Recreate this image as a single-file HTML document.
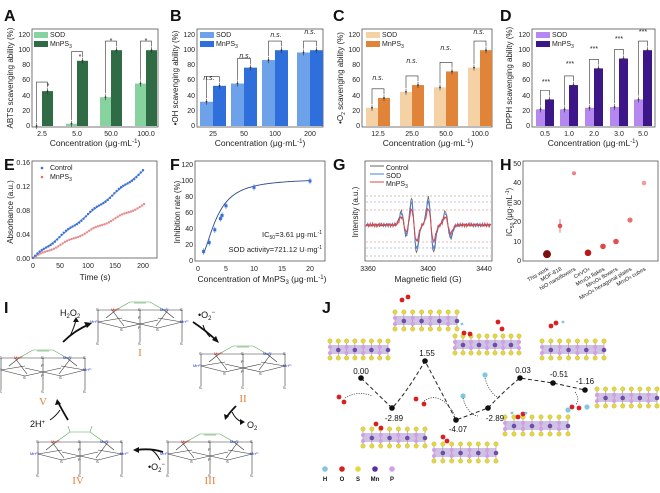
<!DOCTYPE html>
<html><head><meta charset="utf-8"><style>
body{margin:0;background:#fff}
svg{display:block;font-family:"Liberation Sans",sans-serif}
.t{font-size:7px;fill:#222}
.al{font-size:8.5px;fill:#222}
.L{font-size:16px;font-weight:bold;fill:#111}
.s{font-size:4px;fill:#222}
.rn{font-size:11px;fill:#e8803a;font-family:"Liberation Serif",serif}
.e{font-size:8px;fill:#111}
</style></head><body>
<svg id="S" width="660" height="493" viewBox="0 0 660 493">
<g id="G"></g>
<text class="L" x="4" y="21">A</text><text class="L" x="170" y="21">B</text>
<text class="L" x="333" y="21">C</text><text class="L" x="500" y="21">D</text>
<text class="L" x="4" y="170">E</text><text class="L" x="170" y="170">F</text>
<text class="L" x="333" y="170">G</text><text class="L" x="500" y="170">H</text>
<text class="L" x="4" y="313">I</text><text class="L" x="322" y="313">J</text>
<g class="t" text-anchor="end">
<text x="30" y="128">0</text><text x="30" y="113">20</text><text x="30" y="98">40</text><text x="30" y="82">60</text><text x="30" y="67">80</text><text x="30" y="52">100</text><text x="30" y="37">120</text>
<text x="195" y="128">0</text><text x="195" y="113">20</text><text x="195" y="98">40</text><text x="195" y="82">60</text><text x="195" y="67">80</text><text x="195" y="52">100</text><text x="195" y="37">120</text>
<text x="360" y="128">0</text><text x="360" y="113">20</text><text x="360" y="98">40</text><text x="360" y="82">60</text><text x="360" y="67">80</text><text x="360" y="52">100</text><text x="360" y="37">120</text>
<text x="530" y="128">0</text><text x="530" y="113">20</text><text x="530" y="98">40</text><text x="530" y="82">60</text><text x="530" y="67">80</text><text x="530" y="52">100</text><text x="530" y="37">120</text>
</g>
<g class="t" text-anchor="middle">
<text x="42" y="136">2.5</text><text x="77" y="136">5.0</text><text x="111" y="136">50.0</text><text x="146" y="136">100.0</text>
<text x="213" y="136">25</text><text x="244" y="136">50</text><text x="275" y="136">100</text><text x="310" y="136">200</text>
<text x="378" y="136">12.5</text><text x="412" y="136">25.0</text><text x="446" y="136">50.0</text><text x="480" y="136">100.0</text>
<text x="545" y="136">0.5</text><text x="569" y="136">1.0</text><text x="594" y="136">2.0</text><text x="619" y="136">3.0</text><text x="643" y="136">5.0</text>
</g>
<g class="al" text-anchor="middle">
<text x="95" y="146">Concentration (μg·mL<tspan dy="-3" font-size="6">-1</tspan><tspan dy="3">)</tspan></text>
<text x="260" y="146">Concentration (μg·mL<tspan dy="-3" font-size="6">-1</tspan><tspan dy="3">)</tspan></text>
<text x="428" y="146">Concentration (μg·mL<tspan dy="-3" font-size="6">-1</tspan><tspan dy="3">)</tspan></text>
<text x="593" y="146">Concentration (μg·mL<tspan dy="-3" font-size="6">-1</tspan><tspan dy="3">)</tspan></text>
<text transform="translate(13,78) rotate(-90)" font-size="8">ABTS scavenging ability (%)</text>
<text transform="translate(178,78) rotate(-90)" font-size="8">•OH scavenging ability (%)</text>
<text transform="translate(343,78) rotate(-90)" font-size="8">•O<tspan dy="2" font-size="5">2</tspan><tspan dy="-2"> scavenging ability (%)</tspan></text>
<text transform="translate(512,78) rotate(-90)" font-size="8">DPPH scavenging ability (%)</text>
</g>
<g class="t">
<text x="50" y="37">SOD</text><text x="50" y="46">MnPS<tspan dy="2" font-size="5">3</tspan></text>
<text x="216" y="37">SOD</text><text x="216" y="46">MnPS<tspan dy="2" font-size="5">3</tspan></text>
<text x="382" y="37">SOD</text><text x="382" y="46">MnPS<tspan dy="2" font-size="5">3</tspan></text>
<text x="552" y="37">SOD</text><text x="552" y="46">MnPS<tspan dy="2" font-size="5">3</tspan></text>
</g>
<g font-size="7" text-anchor="middle" fill="#222">
<text x="48" y="88">*</text><text x="80" y="59">*</text><text x="111" y="43">*</text><text x="146" y="43">*</text>
<text x="209" y="80" font-style="italic">n.s.</text><text x="245" y="58" font-style="italic">n.s.</text><text x="276" y="37" font-style="italic">n.s.</text><text x="310" y="34" font-style="italic">n.s.</text>
<text x="378" y="80" font-style="italic">n.s.</text><text x="412" y="63" font-style="italic">n.s.</text><text x="446" y="50" font-style="italic">n.s.</text><text x="479" y="34" font-style="italic">n.s.</text>
<text x="546" y="84">***</text><text x="570" y="66">***</text><text x="594" y="51">***</text><text x="619" y="41">***</text><text x="643" y="34">***</text>
</g>
<g class="t" text-anchor="end">
<text x="30" y="165">0.16</text><text x="30" y="189">0.12</text><text x="30" y="213">0.08</text><text x="30" y="237">0.04</text><text x="30" y="261">0.00</text>
<text x="193" y="263">0</text><text x="193" y="247">20</text><text x="193" y="231">40</text><text x="193" y="215">60</text><text x="193" y="199">80</text><text x="193" y="183">100</text><text x="193" y="167">120</text>
<text x="521" y="263">0</text><text x="521" y="244">10</text><text x="521" y="224">20</text><text x="521" y="205">30</text><text x="521" y="185">40</text><text x="521" y="166">50</text>
</g>
<g class="t" text-anchor="middle">
<text x="33" y="268">0</text><text x="60" y="268">50</text><text x="88" y="268">100</text><text x="115" y="268">150</text><text x="143" y="268">200</text>
<text x="198" y="271">0</text><text x="226" y="271">5</text><text x="254" y="271">10</text><text x="282" y="271">15</text><text x="310" y="271">20</text>
<text x="368" y="271">3360</text><text x="428" y="271">3400</text><text x="484" y="271">3440</text>
</g>
<g class="al" text-anchor="middle">
<text x="95" y="280">Time (s)</text>
<text x="262" y="282">Concentration of MnPS<tspan dy="2" font-size="6">3</tspan><tspan dy="-2"> (μg·mL</tspan><tspan dy="-3" font-size="6">-1</tspan><tspan dy="3">)</tspan></text>
<text x="428" y="282">Magnetic field (G)</text>
<text transform="translate(13,212) rotate(-90)" font-size="8">Absorbance (a.u.)</text>
<text transform="translate(180,212) rotate(-90)" font-size="8">Inhibition rate (%)</text>
<text transform="translate(358,212) rotate(-90)" font-size="8">Intensity (a.u.)</text>
<text transform="translate(512,212) rotate(-90)" font-size="8">IC<tspan dy="2" font-size="5">50</tspan><tspan dy="-2"> (μg·mL</tspan><tspan dy="-3" font-size="5">-1</tspan><tspan dy="3">)</tspan></text>
</g>
<g class="t">
<text x="50" y="170">Control</text><text x="50" y="179">MnPS<tspan dy="2" font-size="5">3</tspan></text>
<text x="386" y="170">Control</text><text x="386" y="178">SOD</text><text x="386" y="186">MnPS<tspan dy="2" font-size="5">3</tspan></text>
</g>
<g font-size="7.5" fill="#222" text-anchor="end">
<text x="322" y="237">IC<tspan dy="2" font-size="5">50</tspan><tspan dy="-2">=3.61 μg·mL</tspan><tspan dy="-3" font-size="5">-1</tspan></text>
<text x="322" y="252">SOD activity=721.12 U·mg<tspan dy="-3" font-size="5">-1</tspan></text>
</g>
<g font-size="5.5" fill="#222" text-anchor="end">
<text transform="translate(549,270) rotate(-30)">This work</text>
<text transform="translate(562,270) rotate(-30)">MOF-818</text>
<text transform="translate(576,270) rotate(-30)">NiO nanoflowers</text>
<text transform="translate(590,270) rotate(-30)">CeVO<tspan font-size="4">4</tspan></text>
<text transform="translate(605,270) rotate(-30)">Mn<tspan font-size="4">3</tspan>O<tspan font-size="4">4</tspan> flakes</text>
<text transform="translate(618,270) rotate(-30)">Mn<tspan font-size="4">3</tspan>O<tspan font-size="4">4</tspan> flowers</text>
<text transform="translate(632,270) rotate(-30)">Mn<tspan font-size="4">3</tspan>O<tspan font-size="4">4</tspan> hexagonal plates</text>
<text transform="translate(646,270) rotate(-30)">Mn<tspan font-size="4">3</tspan>O<tspan font-size="4">4</tspan> cubes</text>
</g>
<g id="mols"></g>
<g font-size="9" fill="#111">
<text x="60" y="316">H<tspan dy="2" font-size="6">2</tspan><tspan dy="-2">O</tspan><tspan dy="2" font-size="6">2</tspan></text>
<text x="198" y="318">•O<tspan dy="2" font-size="6">2</tspan><tspan dy="-6" font-size="6">−</tspan></text>
<text x="247" y="428">O<tspan dy="2" font-size="6">2</tspan></text>
<text x="148" y="470">•O<tspan dy="2" font-size="6">2</tspan><tspan dy="-6" font-size="6">−</tspan></text>
<text x="30" y="427">2H<tspan dy="-3" font-size="6">+</tspan></text>
</g>
<g class="rn" text-anchor="middle">
<text x="140" y="356">I</text><text x="243" y="402">II</text><text x="210" y="484">III</text><text x="78" y="484">IV</text><text x="43" y="405">V</text>
</g>
<g id="J"></g>
<g class="e" text-anchor="middle">
<text x="361" y="374">0.00</text><text x="394" y="421">-2.89</text><text x="427" y="356">1.55</text><text x="458" y="432">-4.07</text>
<text x="495" y="421">-2.89</text><text x="523" y="373">0.03</text><text x="559" y="377">-0.51</text><text x="585" y="384">-1.16</text>
</g>
<g font-size="6" font-weight="bold" fill="#111" text-anchor="middle">
<text x="325" y="481">H</text><text x="342" y="481">O</text><text x="358" y="481">S</text><text x="375" y="481">Mn</text><text x="392" y="481">P</text>
</g>
</svg>
<script>
const NS="http://www.w3.org/2000/svg",G=document.getElementById("G");
function el(t,a,p){const e=document.createElementNS(NS,t);for(const k in a)e.setAttribute(k,a[k]);(p||G).appendChild(e);return e}
function frame(x1,y1,x2,y2){el("rect",{x:x1,y:y1,width:x2-x1,height:y2-y1,fill:"none",stroke:"#555","stroke-width":0.8});}
const Y=v=>126-v*0.758;
function bars(cx,sod,mn,bw,c1,c2,x1,x2,lx){
 frame(x1,29,x2,127);
 for(let i=0;i<cx.length;i++){
  el("rect",{x:cx[i]-bw,y:Y(sod[i]),width:bw,height:126-Y(sod[i]),fill:c1});
  el("rect",{x:cx[i],y:Y(mn[i]),width:bw,height:126-Y(mn[i]),fill:c2});
  [[cx[i]-bw/2,sod[i]],[cx[i]+bw/2,mn[i]]].forEach(([x,v])=>{el("line",{x1:x,x2:x,y1:Y(v+4),y2:Y(v-4),stroke:"#333","stroke-width":0.6});el("circle",{cx:x,cy:Y(v),r:0.9,fill:"#333"})});
  const top=Y(Math.max(sod[i],mn[i])+12);
  el("polyline",{points:`${cx[i]-bw/2},${Y(sod[i]+5)} ${cx[i]-bw/2},${top} ${cx[i]+bw/2},${top} ${cx[i]+bw/2},${Y(mn[i]+5)}`,fill:"none",stroke:"#333","stroke-width":0.6});
 }
 el("rect",{x:lx,y:32,width:14,height:6,fill:c1});el("rect",{x:lx,y:41,width:14,height:6,fill:c2});
}
bars([42,77,111,146],[0,3,38,56],[46,86,100,100],11,"#86d3a0","#2f6b45",32,158,34);
bars([213,244,275,310],[32,56,87,97],[53,77,100,100],13,"#6da2ea","#2f6fdc",197,323,200);
bars([378,412,446,480],[24,45,51,77],[37,54,72,100],12,"#f5d1a6","#e0843a",362,492,366);
bars([545,569,594,619,643],[22,22,24,25,35],[35,54,76,89,100],9,"#b488ee","#3d1788",532,655,536);
frame(32,161,157,258);
const ex=t=>33+t*0.55, ey=v=>258-v*600;
for(let t=0;t<=200;t+=4){let n=Math.sin(t*1.7)*0.002;el("circle",{cx:ex(t),cy:ey(0.000725*t+n),r:1.2,fill:"#3a6fd8"});el("circle",{cx:ex(t+2),cy:ey(0.00044*(t+2)+n*0.7),r:1.2,fill:"#e07070",opacity:0.8});}
el("polyline",{points:Array.from({length:101},(_,i)=>ex(i*2)+","+ey(0.000725*i*2)).join(" "),fill:"none",stroke:"#3a6fd8","stroke-width":0.6});
el("circle",{cx:42,cy:168,r:1.3,fill:"#3a6fd8"});el("circle",{cx:42,cy:177,r:1.3,fill:"#e07070"});
frame(195,161,325,261);
const fx=c=>198+c*5.6, fy=v=>261-v*0.8;
let pts=[];for(let c=1;c<=20;c+=0.25){let v=103*c*c/(c*c+10.1);pts.push(fx(c)+","+fy(v))}
el("polyline",{points:pts.join(" "),fill:"none",stroke:"#2b4a8c","stroke-width":0.9});
[[1,12],[2,23],[3,39],[4,53],[4.3,57],[5,69],[10,92],[20,100]].forEach(([c,v])=>{el("rect",{x:fx(c)-1.5,y:fy(v)-1.5,width:3,height:3,fill:"#3a6fd8"});el("line",{x1:fx(c),x2:fx(c),y1:fy(v+4),y2:fy(v-4),stroke:"#3a6fd8","stroke-width":0.6})});
frame(365,161,492,261);
[[196,"#888"],[202,"#6c93e0"],[210,"#e07070"],[242,"#e07070"],[248,"#6c93e0"],[256,"#888"]].forEach(([y,c])=>el("line",{x1:366,x2:491,y1:y,y2:y,stroke:c,"stroke-dasharray":"2,2","stroke-width":0.6}));
function epr(A,col,w,ph){let p=[];for(let x=366;x<=491;x+=0.6){let y=225;[[404,1],[414,2],[431,2],[448,1]].forEach(([c,a])=>{let d=x-c;y+=A*a*d*Math.exp(-d*d/14)/2;});y+=Math.sin(x*2.3+ph)*1.0+Math.sin(x*5.1+ph)*0.7;p.push(x.toFixed(1)+","+y.toFixed(1))}el("polyline",{points:p.join(" "),fill:"none",stroke:col,"stroke-width":w})}
epr(17,"#666",0.8,0);epr(14.5,"#4a7fdc",0.9,1);epr(10,"#d84848",1,2);
[[168,"#666"],[176,"#4a7fdc"],[184,"#d84848"]].forEach(([y,c])=>el("line",{x1:370,x2:384,y1:y-2,y2:y-2,stroke:c}));
frame(523,161,658,261);
const hy=v=>261-v*1.95;
[[547,3.5,"#7a1010",4],[560,18,"#e05050",2.3],[574,45,"#f08080",2],[588,4.2,"#b81818",3.3],[603,7.5,"#e04848",2.8],[616,10,"#e05050",2.8],[630,21,"#e87070",2.6],[644,40,"#f29a9a",2.3]].forEach(([x,v,c,r])=>{el("circle",{cx:x,cy:hy(v),r:r,fill:c});});
el("line",{x1:560,x2:560,y1:hy(21.5),y2:hy(14.5),stroke:"#e05050","stroke-width":0.8});
const M=document.getElementById("mols");
function mol(cx,cy,hh){
 const g=el("g",{transform:`translate(${cx},${cy})`,stroke:"#333","stroke-width":0.6,fill:"none"},M);
 const L=(a,b,c,d)=>el("line",{x1:a,y1:b,x2:c,y2:d},g);
 L(-42,-10,-42,22);L(42,-10,42,22);L(-42,-10,42,-10);L(0,-10,0,22);
 L(-28,-10,-16,6);L(28,-10,16,6);L(-42,2,-18,8);L(42,2,18,8);L(-18,8,18,0);L(18,8,-18,0);L(-42,2,-18,-2);L(42,2,18,-2);
 L(-24,-10,-34,-2);L(24,-10,34,-2);
 if(hh){el("polyline",{points:"-24,-10 -10,-20 10,-20 24,-10",stroke:"#5aa55a"},g);el("line",{x1:-10,y1:-20,x2:-12,y2:-26,stroke:"#5aa55a"},g);el("line",{x1:10,y1:-20,x2:12,y2:-26,stroke:"#5aa55a"},g);}
 else{el("polyline",{points:"-24,-10 -10,-18 10,-18 24,-10",stroke:"#5aa55a"},g);el("line",{x1:-6,y1:-17,x2:6,y2:-17,stroke:"#5aa55a"},g);}
 const T=(x,y,t,c)=>{const e=el("text",{x:x,y:y,"font-size":4,fill:c,stroke:"none"},g);e.textContent=t};
 T(-29,-9,"Mn²⁺","#e02020");T(20,-9,"Mn³⁺","#2030e0");T(-50,3,"Mn²⁺","#2030e0");T(40,3,"Mn²⁺","#2030e0");
 [[-44,-9],[-2,-9],[40,-9],[-20,11],[16,11],[-44,25],[-2,25],[40,25]].forEach(([x,y])=>T(x,y,"S","#222"));
 T(-2,-1,"P","#222");T(-2,9,"P","#222");
}
mol(140,320);mol(243,364);mol(210,452);mol(80,452,1);mol(43,368);
function arr(d,h){el("path",{d:d,fill:"none",stroke:"#111","stroke-width":1.8},M);el("polygon",{points:h,fill:"#111"},M)}
arr("M63,342 Q75,330 90,324","92,323 84,322 87,328");
el("path",{d:"M70,336 Q74,328 76,320",fill:"none",stroke:"#111","stroke-width":1},M);el("polygon",{points:"76,317 73,322 79,322",fill:"#111"},M);
arr("M193,322 Q205,330 216,340","219,343 212,340 216,336");
el("path",{d:"M203,325 Q205,332 210,337",fill:"none",stroke:"#111","stroke-width":1},M);
arr("M236,406 Q230,412 226,418","225,420 224,414 229,416");
el("path",{d:"M232,412 Q236,420 242,422",fill:"none",stroke:"#111","stroke-width":1},M);el("polygon",{points:"245,422 240,419 240,425",fill:"#111"},M);
arr("M163,452 Q150,448 137,450","133,450 139,447 139,453");
el("path",{d:"M150,449 Q156,452 160,460",fill:"none",stroke:"#111","stroke-width":1},M);
arr("M68,420 Q62,410 58,402","57,399 55,405 61,404");
el("path",{d:"M60,410 Q56,416 50,420",fill:"none",stroke:"#111","stroke-width":1},M);
const J=document.getElementById("J");
function slab(x,y,w){const n=Math.floor(w/8);
 for(let i=0;i<=n;i++){const xx=x+i*w/n;el("line",{x1:xx,y1:y+2,x2:xx,y2:y+20,stroke:"#b08850","stroke-width":0.6},J);}
 el("rect",{x:x,y:y+7,width:w,height:9,fill:"#a98fd0",opacity:0.55},J);
 for(let i=0;i<=n;i++){const xx=x+i*w/n;el("circle",{cx:xx,cy:y+3,r:2.2,fill:"#e6d83a",stroke:"#a89820","stroke-width":0.3},J);el("circle",{cx:xx,cy:y+20,r:2.2,fill:"#e6d83a",stroke:"#a89820","stroke-width":0.3},J);
  if(i%2==0){el("circle",{cx:xx,cy:y+9,r:2,fill:"#cfa0e8"},J);el("circle",{cx:xx,cy:y+15,r:2,fill:"#cfa0e8"},J);}else el("circle",{cx:xx,cy:y+12,r:2.3,fill:"#6a4fa8"},J);}
}
[[395,309,62],[330,338,58],[455,333,64],[542,338,62],[597,386,60],[363,426,62],[434,441,62],[505,414,63]].forEach(a=>slab(...a));
function ball(x,y,c,r){el("circle",{cx:x,cy:y,r:r||2.4,fill:c},J)}
[[402,300],[408,297],[339,397],[344,402],[416,399],[424,404],[376,424],[381,428],[443,437],[447,441],[464,333],[470,334],[518,417],[523,414],[572,407],[579,408],[551,326],[556,323],[502,329],[498,322]].forEach(([x,y])=>ball(x,y,"#d82020"));
[[462,324],[563,322],[485,375],[463,396],[568,410],[587,407],[512,413],[526,413]].forEach(([x,y],i)=>ball(x,y,"#7fc8e0",i<2||i>5?1.4:2.6));
el("path",{d:"M361,378 L392,408 Q405,395 425,361 L456,420 L488,408 Q505,390 520,378 L553,383 L585,390",fill:"none",stroke:"#222","stroke-width":1,"stroke-dasharray":"4,2.5"},J);
[["M345,398 Q358,390 372,396"],["M424,401 Q440,390 455,415"],["M463,398 Q468,415 478,416"],["M485,378 Q490,395 500,398"],["M575,392 Q580,398 576,405"]].forEach(([d])=>el("path",{d:d,fill:"none",stroke:"#333","stroke-width":0.7,"stroke-dasharray":"1.2,1.2"},J));
[[361,378],[392,408],[425,361],[456,420],[488,408],[520,378],[553,383],[585,390]].forEach(([x,y])=>el("circle",{cx:x,cy:y,r:2.8,fill:"#111"},J));
[[325,"#7fc8e0"],[342,"#d82020"],[358,"#e6d83a"],[375,"#5a2fa0"],[392,"#cfa0e8"]].forEach(([x,c])=>ball(x,469,c,2.8));
</script>
</body></html>
